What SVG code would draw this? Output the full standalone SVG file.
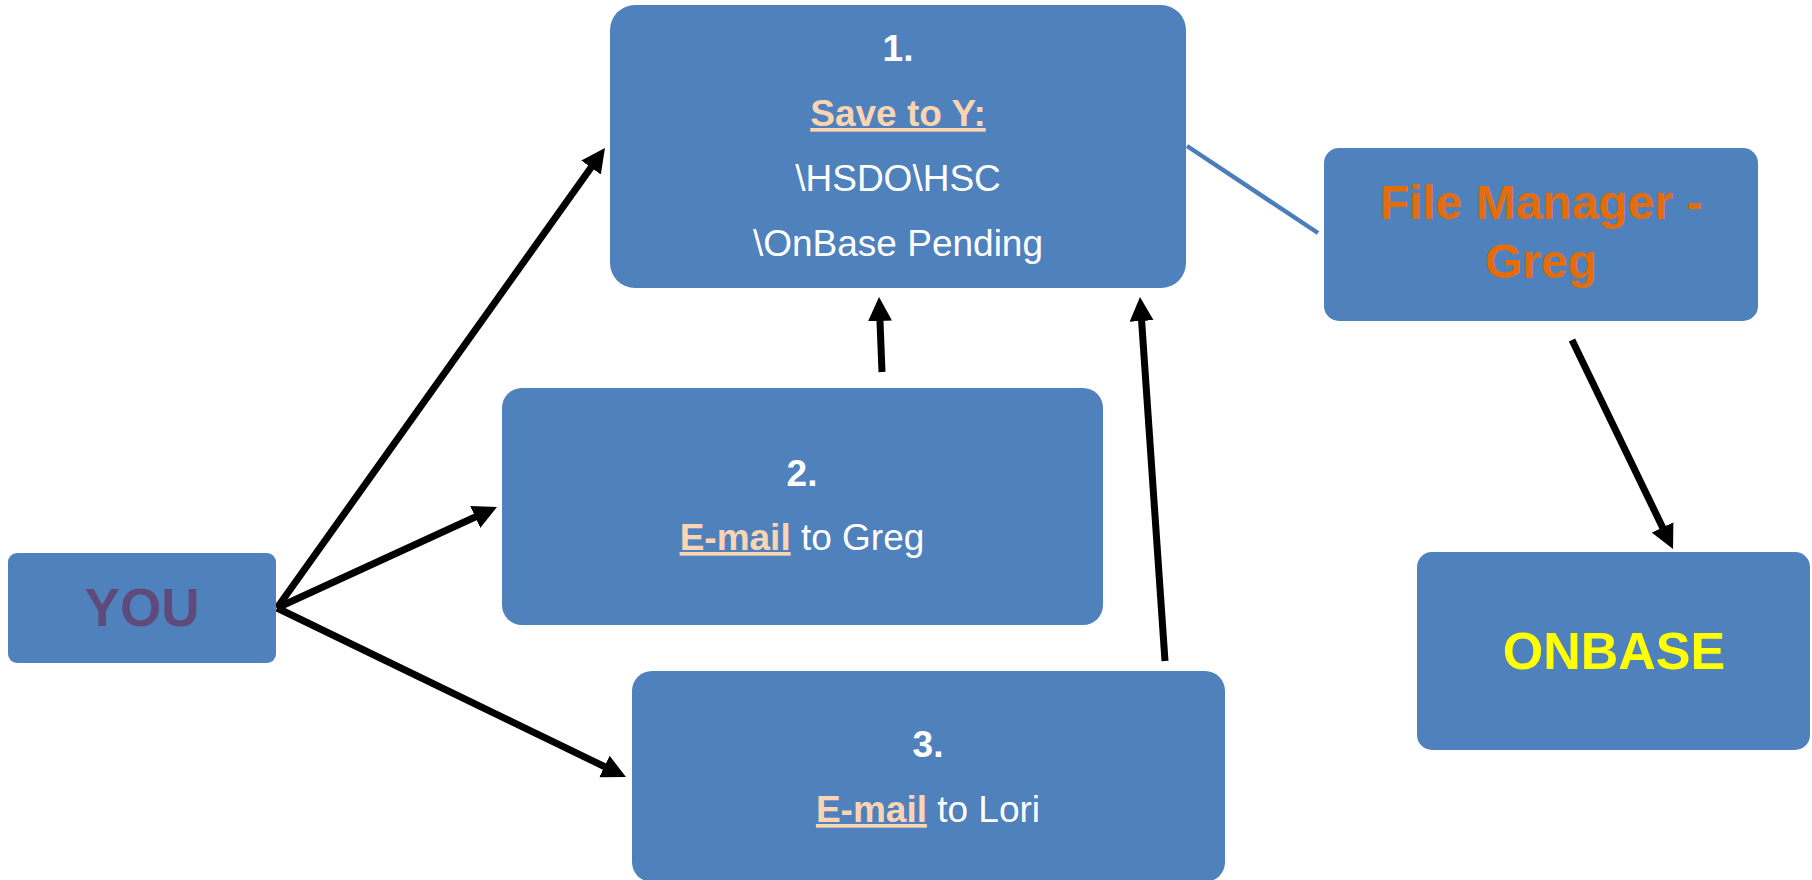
<svg xmlns="http://www.w3.org/2000/svg" width="1812" height="880" viewBox="0 0 1812 880">
<style>
.box{fill:#4F81BD;}
.t{font-family:"Liberation Sans",Arial,sans-serif;text-anchor:middle;}
.w{fill:#FFFFFF;font-size:37px;}
.b{font-weight:bold;}
.pe{fill:#FBD4B4;font-weight:bold;text-decoration:underline;}
.arrow{stroke:#000000;stroke-width:7;fill:none;marker-end:url(#ah);}
</style>
<defs>
<marker id="ah" markerUnits="userSpaceOnUse" markerWidth="24" markerHeight="24" refX="12" refY="12" orient="auto" viewBox="0 0 24 24">
<path d="M0,0 L24,12 L0,24 z" fill="#000000"/>
</marker>
</defs>
<rect width="1812" height="880" fill="#FFFFFF"/>
<g id="connectors">
<line x1="1187" y1="146" x2="1318" y2="233" stroke="#4A7EBB" stroke-width="4.5"/>
<line class="arrow" x1="277" y1="608" x2="598" y2="157.8"/>
<line class="arrow" x1="277" y1="608" x2="486.1" y2="512"/>
<line class="arrow" x1="277" y1="608" x2="615.2" y2="771.8"/>
<line class="arrow" x1="882" y1="372" x2="879.5" y2="309"/>
<line class="arrow" x1="1165" y1="661" x2="1140.8" y2="309"/>
<line class="arrow" x1="1572" y1="340" x2="1667.8" y2="538.2"/>
</g>
<g id="node-save">
<rect class="box" x="610" y="5" width="576" height="283" rx="25"/>
<text class="t w b" x="898" y="61">1.</text>
<text class="t w" x="898" y="126"><tspan class="pe">Save to Y:</tspan></text>
<text class="t w" x="898" y="191">\HSDO\HSC</text>
<text class="t w" x="898" y="256">\OnBase Pending</text>
</g>
<g id="node-filemanager">
<rect class="box" x="1324" y="148" width="434" height="173" rx="15"/>
<text class="t b" x="1541" y="219" font-size="48" fill="#E46C0A">File Manager -</text>
<text class="t b" x="1541" y="278" font-size="48" fill="#E46C0A">Greg</text>
</g>
<g id="node-email-greg">
<rect class="box" x="502" y="388" width="601" height="237" rx="20"/>
<text class="t w b" x="802" y="486">2.</text>
<text class="t w" x="802" y="550"><tspan class="pe">E-mail</tspan> to Greg</text>
</g>
<g id="node-you">
<rect class="box" x="8" y="553" width="268" height="110" rx="9"/>
<text class="t b" x="142" y="626" font-size="53" fill="#604A7B">YOU</text>
</g>
<g id="node-email-lori">
<rect class="box" x="632" y="671" width="593" height="211" rx="20"/>
<text class="t w b" x="928" y="757">3.</text>
<text class="t w" x="928" y="822"><tspan class="pe">E-mail</tspan> to Lori</text>
</g>
<g id="node-onbase">
<rect class="box" x="1417" y="552" width="393" height="198" rx="15"/>
<text class="t b" x="1614" y="669" font-size="52" fill="#FFFF00">ONBASE</text>
</g>
</svg>
